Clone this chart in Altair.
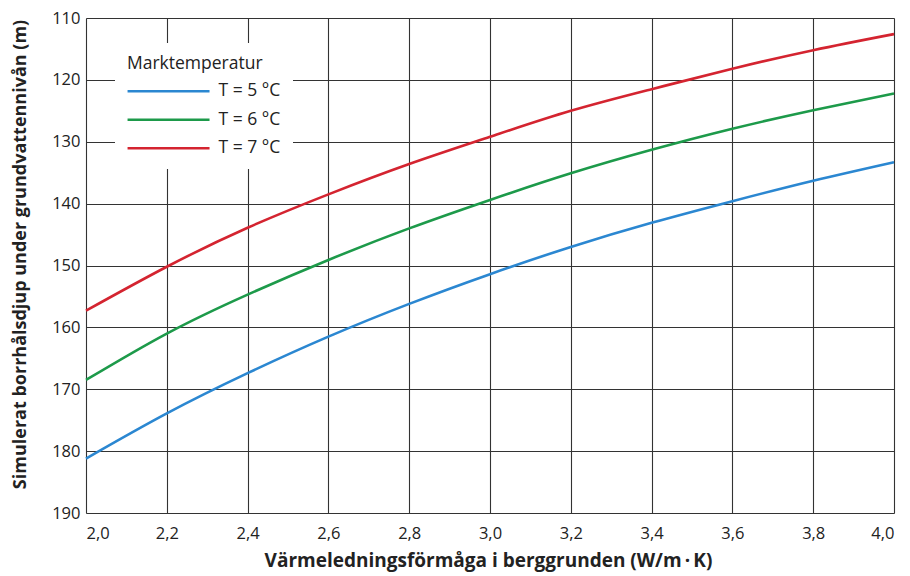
import altair as alt
import pandas as pd

x_vals = [2.0, 2.2, 2.4, 2.6, 2.8, 3.0, 3.2, 3.4, 3.6, 3.8, 4.0]
depth_t5 = [181.2, 173.9, 167.4, 161.5, 156.2, 151.4, 147.0, 143.1, 139.6, 136.3, 133.3]
depth_t6 = [168.5, 161.0, 154.7, 149.1, 144.0, 139.4, 135.1, 131.3, 127.9, 124.9, 122.2]
depth_t7 = [157.3, 150.2, 143.9, 138.5, 133.6, 129.2, 125.0, 121.5, 118.2, 115.2, 112.6]
series = ["T = 5 °C", "T = 6 °C", "T = 7 °C"]
colors = ["#2b87d1", "#1d9a4a", "#d42430"]
y_ticks = [110, 120, 130, 140, 150, 160, 170, 180, 190]
x_ticks = [2.0, 2.2, 2.4, 2.6, 2.8, 3.0, 3.2, 3.4, 3.6, 3.8, 4.0]

rows = []
for name, vals in zip(series, [depth_t5, depth_t6, depth_t7]):
    for xv, yv in zip(x_vals, vals):
        rows.append({"k": xv, "depth": yv, "serie": name})
df = pd.DataFrame(rows)

FONT = "Open Sans"

chart = alt.Chart(df).mark_line(strokeWidth=2.6, interpolate="natural").encode(
    x=alt.X(
        "k:Q",
        scale=alt.Scale(domain=[2.0, 4.0], nice=False, zero=False),
        axis=alt.Axis(
            title="Värmeledningsförmåga i berggrunden (W/m\u2009·\u2009K)",
            values=x_ticks,
            labelExpr="replace(format(datum.value, '.1f'), '.', ',')",
            ticks=False,
            domain=False,
            labelPadding=12,
            labelFontSize=16.5,
            labelFont=FONT,
            labelColor="#222222",
            titleFont=FONT,
            titleFontSize=19,
            titleFontWeight="bold",
            titleColor="#222222",
            titleX=402,
            titleY=47,
            titleBaseline="middle",
            gridColor="#333333",
            gridWidth=1.1,
            gridOpacity=1,
        ),
    ),
    y=alt.Y(
        "depth:Q",
        scale=alt.Scale(domain=[110, 190], reverse=True, nice=False, zero=False),
        axis=alt.Axis(
            title="Simulerat borrhålsdjup under grundvattennivån (m)",
            values=y_ticks,
            ticks=False,
            domain=False,
            labelPadding=6,
            labelFontSize=16.5,
            labelFont=FONT,
            labelColor="#222222",
            titleFont=FONT,
            titleFontSize=18,
            titleFontWeight="bold",
            titleColor="#222222",
            titleX=-66,
            titleY=236,
            titleBaseline="middle",
            gridColor="#333333",
            gridWidth=1.1,
            gridOpacity=1,
        ),
    ),
    color=alt.Color(
        "serie:N",
        scale=alt.Scale(domain=series, range=colors),
        legend=alt.Legend(
            title="Marktemperatur",
            orient="none",
            legendX=29,
            legendY=25,
            fillColor="white",
            padding=12,
            symbolType="M-1.6,0H14.4",
            symbolSize=105,
            symbolStrokeWidth=2.6,
            labelOffset=74,
            rowPadding=9.5,
            titlePadding=10,
            titleFont=FONT,
            titleFontSize=17.5,
            titleFontWeight="normal",
            titleColor="#222222",
            labelFont=FONT,
            labelFontSize=17.5,
            labelColor="#222222",
        ),
    ),
).properties(
    width=808,
    height=495,
    autosize=alt.AutoSizeParams(type="none"),
    padding={"left": 86, "top": 18, "right": 16, "bottom": 63},
).configure_view(
    stroke="#222222",
    strokeWidth=1.5,
).configure(background="white")

chart.save("out.html", embed_options={"renderer": "svg", "actions": False})
